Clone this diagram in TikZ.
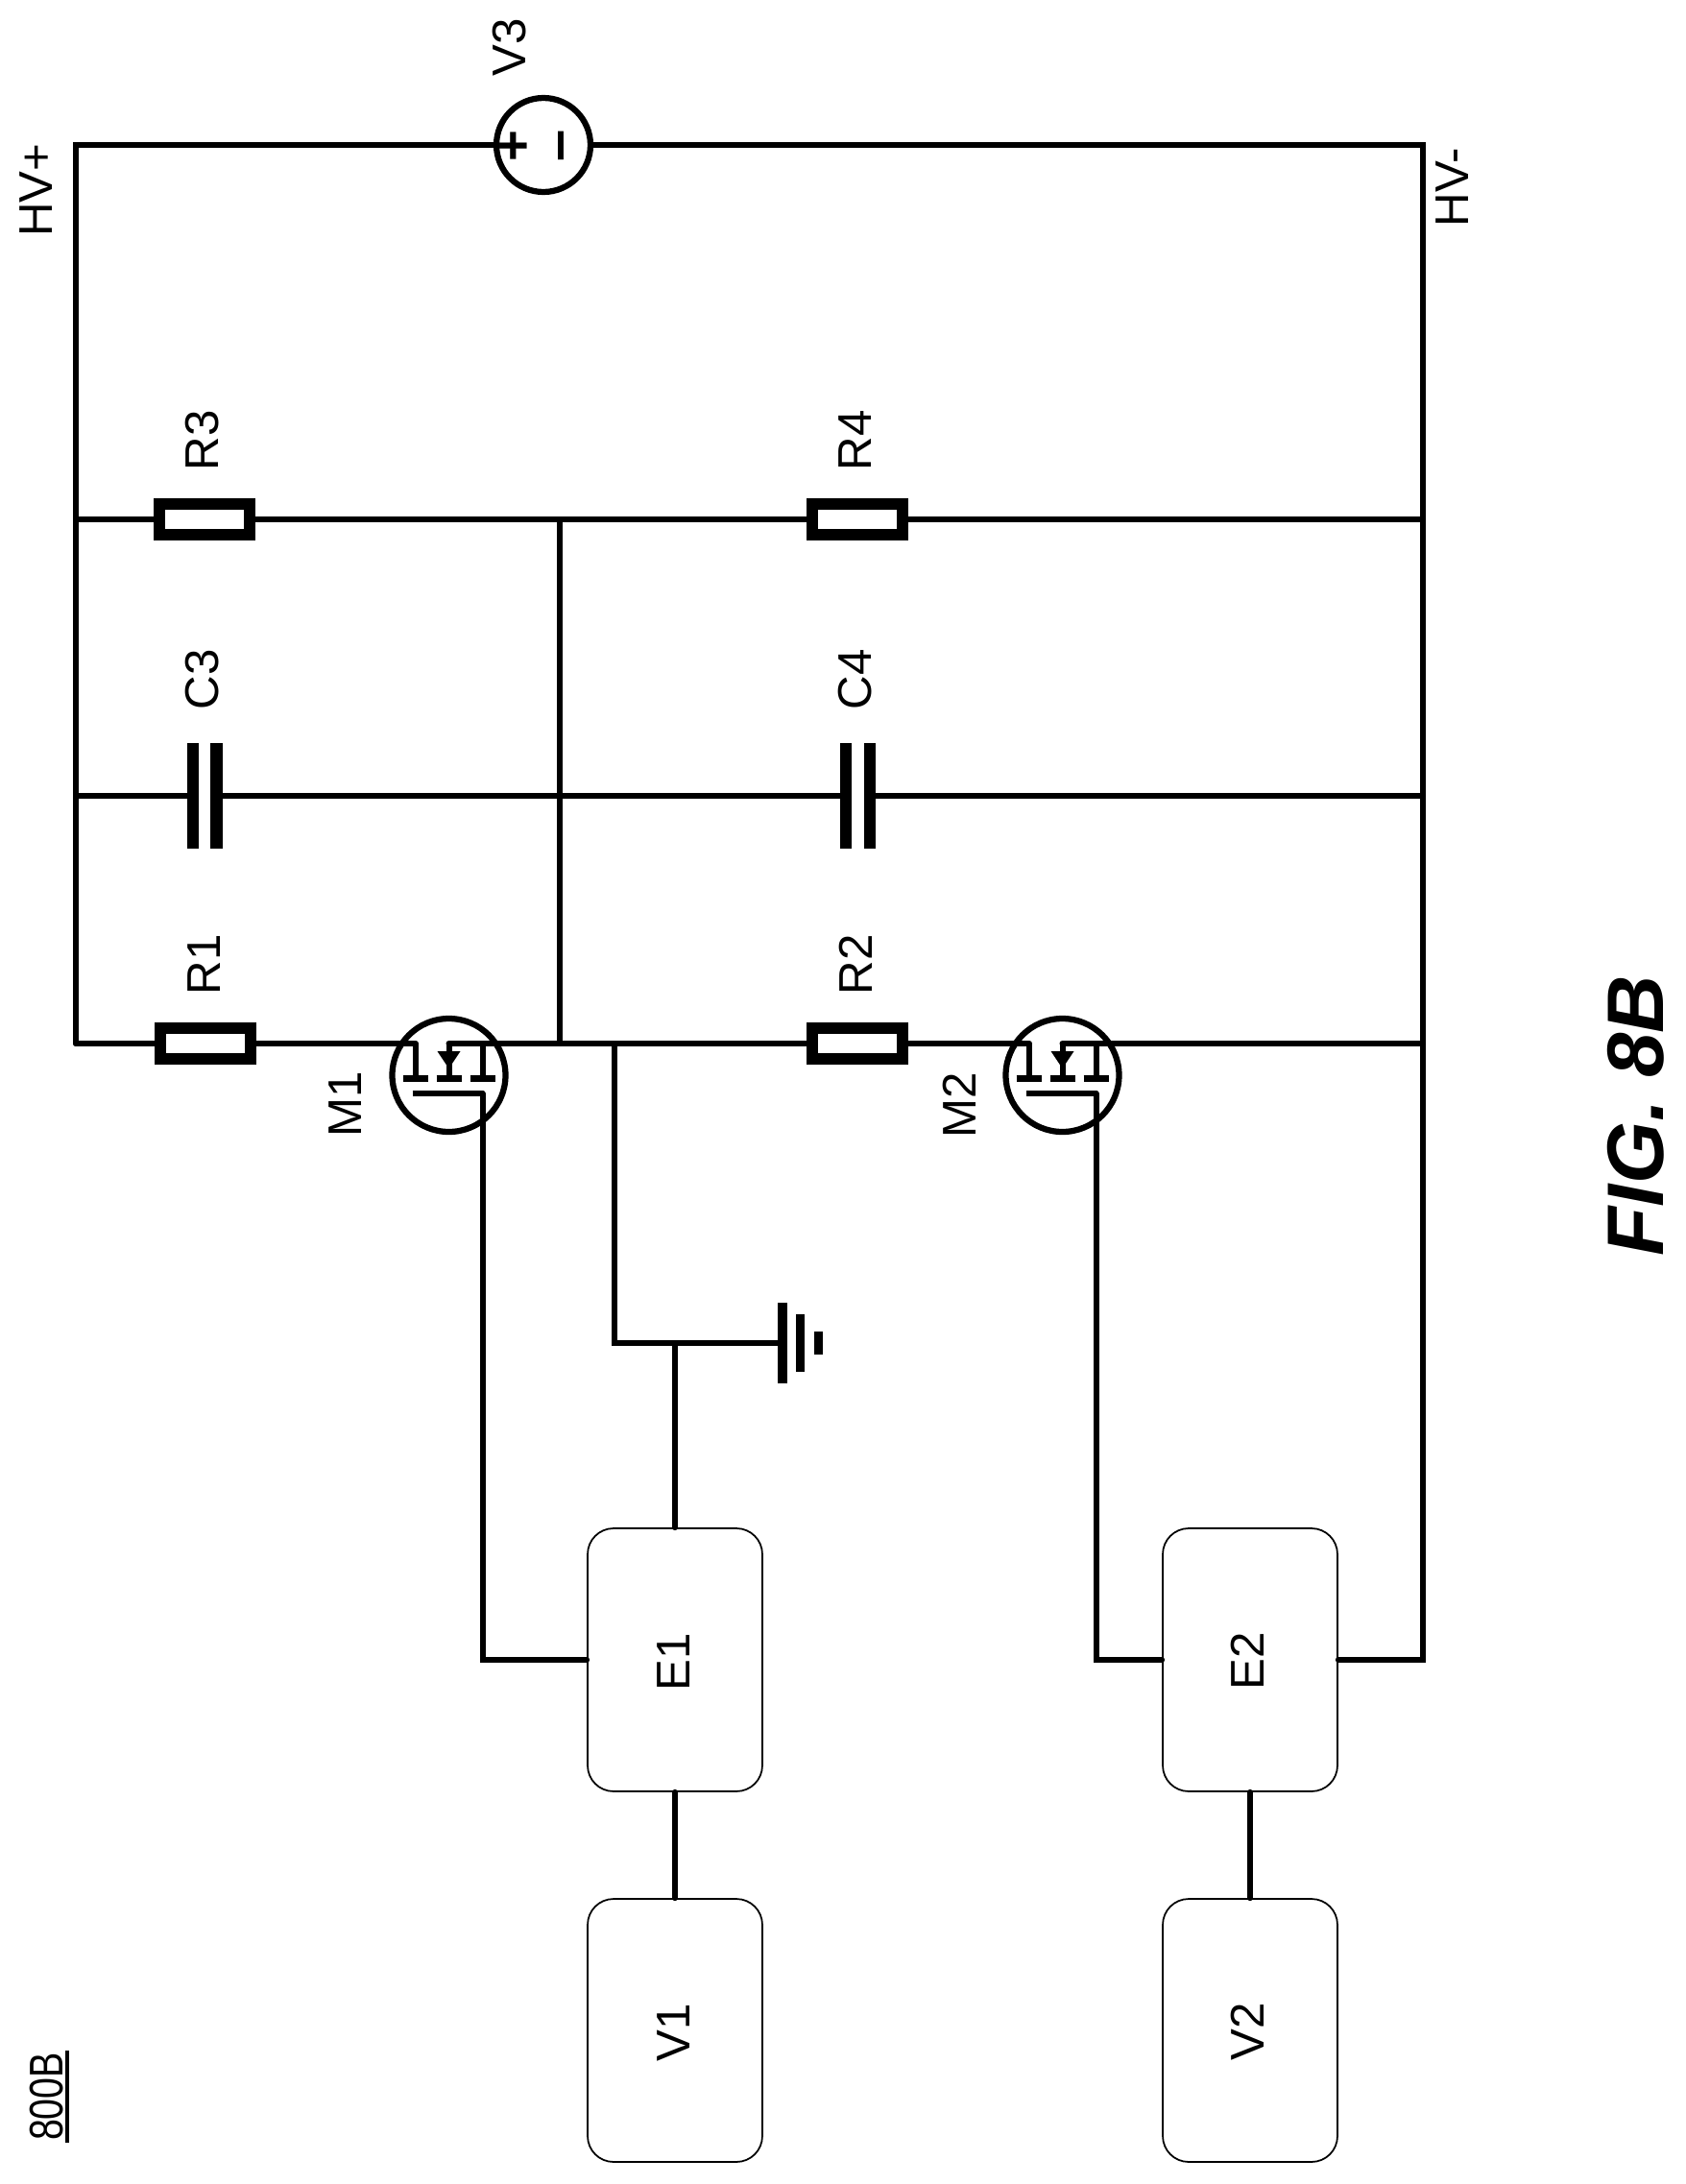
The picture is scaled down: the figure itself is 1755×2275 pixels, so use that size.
\documentclass[tikz,border=0pt]{standalone}
\usepackage{fontspec}
\setmainfont{Liberation Sans}
\tikzset{
    wire/.style = {line width = 0.12cm, line cap = round},
    lbl/.style = {rotate = 90, inner sep = 0pt, font = \fontsize{28}{30}\selectfont},
    res/.style = {draw, line width = 0.24cm, minimum width = 1.88cm, minimum height = 0.64cm, inner sep = 0pt, fill = white},
    plate/.style 2 args = {fill = black, minimum width = #1cm, minimum height = #2cm, inner sep = 0pt},
    block/.style = {draw, rounded corners = 0.54cm, line width = 0.035cm, minimum width = 3.64cm, minimum height = 5.48cm, inner sep = 0pt},
    ring/.style = {draw, circle, line width = 0.125cm, inner sep = 0pt, minimum size = #1cm},
    pics/mosfet/.style = {code = {
        \node [ring = 2.36] (-c) at (0,0) {};
        \coordinate (-d) at (-34.5,-33);
        \coordinate (-s) at (0,-33);
        \coordinate (-g) at (35,19);
        \draw [wire, line cap = butt] (-d) -- (-34.5,3);
        \draw [wire, line cap = butt] (-s) -- (0,3);
        \draw [wire, line cap = butt] (35,-33) -- (35,3);
        \draw [line width = 0.14cm] (-48,3) -- (-22,3) (-13,3) -- (13,3) (22,3) -- (48,3);
        \draw [wire, line cap = butt] (-38,19) -- (-g);
        \fill (-12,-25) -- (12,-25) -- (0,-7) -- cycle;
    }}
}
\begin{document}
\begin{tikzpicture}[x = 0.02cm, y = -0.02cm]
\useasboundingbox (0,0) rectangle (1755,2275);
    % rails
    \coordinate (tl) at (79,151);
    \coordinate (tr) at (1482,151);
    \coordinate (br) at (1482,1729);
    \coordinate (l3) at (79,541);
    \coordinate (l4) at (79,829);
    \coordinate (l1) at (79,1087);
    \coordinate (m3) at (583,541);
    \coordinate (m4) at (583,829);
    \coordinate (m1) at (583,1087);
    \coordinate (r3) at (1482,541);
    \coordinate (r4) at (1482,829);
    \coordinate (r1) at (1482,1087);
    \coordinate (g1) at (640,1087);
    \coordinate (g2) at (640,1399);
    \coordinate (g3) at (703,1399);

    % parts
    \node [ring = 1.96] (V3) at (566,151) {};
    \node [lbl, font = \fontsize{32}{34}\selectfont\bfseries] (plus) at (537,152) {+};
    \node [lbl, font = \fontsize{34}{36}\selectfont\bfseries] (minus) at (591,152) {–};
    \node [res] (R3) at (213,541) {};
    \node [res] (R4) at (893,541) {};
    \node [res] (R1) at (214,1087) {};
    \node [res] (R2) at (893,1087) {};
    \node [plate = {0.25}{2.2}] (C3a) at (201,829) {};
    \node [plate = {0.25}{2.2}] (C3b) at (225.5,829) {};
    \node [plate = {0.25}{2.2}] (C4a) at (881,829) {};
    \node [plate = {0.25}{2.2}] (C4b) at (906,829) {};
    \pic (M1) at (467.5,1120) {mosfet};
    \pic (M2) at (1106.5,1120) {mosfet};
    \node [plate = {0.2}{1.68}] (gnd) at (815,1399) {};
    \node [plate = {0.19}{1.2}] (gndb) at (833.5,1399) {};
    \node [plate = {0.18}{0.48}] (gndc) at (852.5,1399) {};
    \node [block] (E1) at (703,1729) {};
    \node [block] (V1) at (703,2115) {};
    \node [block] (E2) at (1302,1729) {};
    \node [block] (V2) at (1302,2115) {};

    % wires
    \draw [wire] (l1) -- (tl) -- (V3);
    \draw [wire] (V3) -- (tr) -- (br) -- (E2.east);
    \draw [wire] (l3) -- (R3) -- (m3) -- (R4) -- (r3);
    \draw [wire] (l4) -- (C3a);
    \draw [wire] (C3b) -- (m4) -- (C4a);
    \draw [wire] (C4b) -- (r4);
    \draw [wire] (l1) -- (R1) -- (M1-d);
    \draw [wire] (M1-s) -- (g1) -- (R2) -- (M2-d);
    \draw [wire] (M2-s) -- (r1);
    \draw [wire] (m3) -- (m1);
    \draw [wire] (g1) -- (g2) -- (gnd);
    \draw [wire] (g3) -- (E1.north);
    \draw [wire] (M1-g) |- (E1.west);
    \draw [wire] (M2-g) |- (E2.west);
    \draw [wire] (E1.south) -- (V1.north);
    \draw [wire] (E2.south) -- (V2.north);

    % labels
    \node [lbl] (hvp) at (38,198) {HV+};
    \node [lbl] (hvm) at (1513,195) {HV-};
    \node [lbl] (v3l) at (531,49) {V3};
    \node [lbl] (r3l) at (211,459) {R3};
    \node [lbl] (c3l) at (210.5,708) {C3};
    \node [lbl] (r1l) at (213,1005) {R1};
    \node [lbl] (r4l) at (891,459) {R4};
    \node [lbl] (c4l) at (891,708) {C4};
    \node [lbl] (r2l) at (891,1005) {R2};
    \node [lbl] (m1l) at (360,1150) {M1};
    \node [lbl] (m2l) at (999,1151) {M2};
    \node [lbl] (e1l) at (702,1731) {E1};
    \node [lbl] (v1l) at (702,2117) {V1};
    \node [lbl] (e2l) at (1299,1730) {E2};
    \node [lbl] (v2l) at (1299,2116) {V2};
    \node [lbl, inner ysep = 0.08cm, inner xsep = 0.04cm] (fig) at (48.5,2184) {\scalebox{0.8}[1]{800B}};
    \draw [line width = 0.08cm] (fig.south west) -- (fig.south east);
    \node [lbl, font = \fontsize{47.5}{50}\selectfont\bfseries\itshape] (figb) at (1704,1162) {FIG. 8B};
\end{tikzpicture}
\end{document}
